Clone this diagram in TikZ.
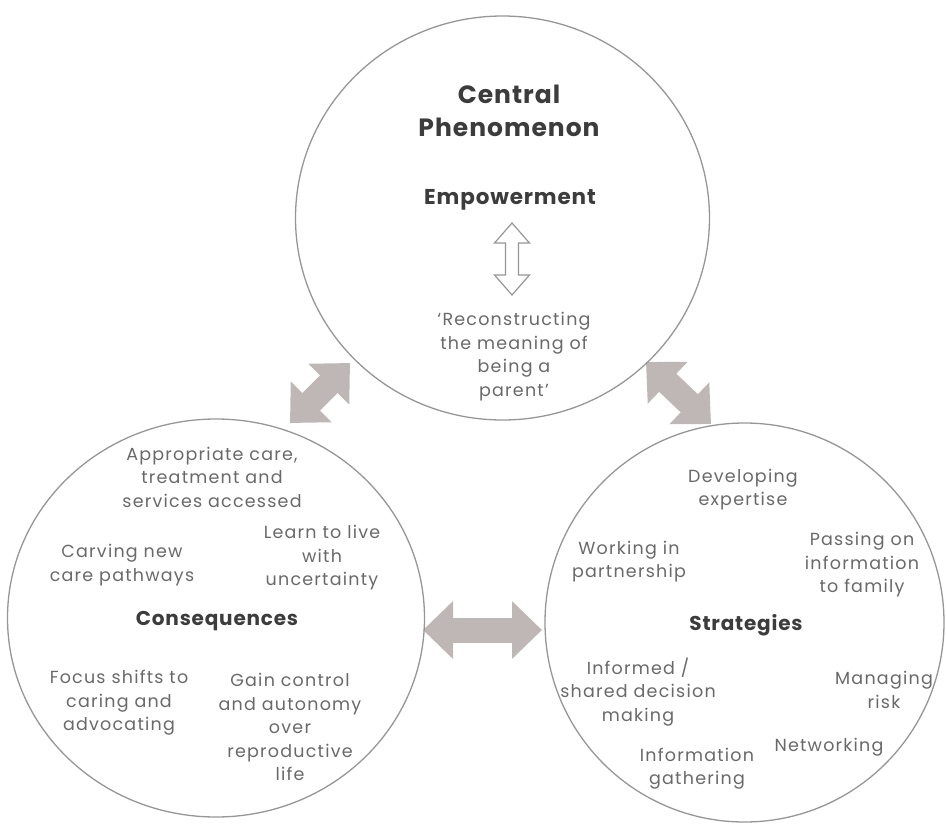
\documentclass[tikz,border=0pt]{standalone}
\usepackage{fontspec}
\setmainfont{Poppins}
\usetikzlibrary{arrows.meta,shapes.geometric}

\definecolor{ringgray}{RGB}{150,150,150}
\definecolor{linkgray}{RGB}{190,183,181}
\definecolor{bodytext}{RGB}{105,105,105}
\definecolor{headtext}{RGB}{60,60,60}

\tikzset{
  ring/.style={ellipse, draw=ringgray, line width=1.3pt, inner sep=0pt},
  label/.style={align=center, inner sep=0pt, text=bodytext,
    font=\fontsize{17.5}{23.5}\selectfont\addfontfeatures{LetterSpace=7}},
  heading/.style={align=center, inner sep=0pt, text=headtext,
    font=\fontsize{20}{24}\selectfont\bfseries\addfontfeatures{LetterSpace=4}},
  bigheading/.style={align=center, inner sep=0pt, text=headtext,
    font=\fontsize{25}{33}\selectfont\bfseries\addfontfeatures{LetterSpace=4}},
  biglink/.style={draw=linkgray, line width=25pt,
    {Triangle[length=30pt,width=56pt]}-{Triangle[length=30pt,width=56pt]}},
  hollowlink/.style={draw=ringgray, line width=1.2pt, fill=white, line join=miter}
}

\begin{document}
\begin{tikzpicture}[x=1pt,y=-1pt]
  \useasboundingbox (0,0) rectangle (946,823);

  % link end points between the three rings
  \coordinate (lt-a) at (290,423);
  \coordinate (lt-b) at (350,363);
  \coordinate (rt-a) at (646,362);
  \coordinate (rt-b) at (711,424);
  \coordinate (md-a) at (423,630);
  \coordinate (md-b) at (542,630);

  % two-headed links
  \draw[biglink] (lt-a) -- (lt-b);
  \draw[biglink] (rt-a) -- (rt-b);
  \draw[biglink] (md-a) -- (md-b);

  % the three rings
  \node[ring, minimum width=414pt, minimum height=404pt] (central) at (502.5,218) {};
  \node[ring, minimum width=417pt, minimum height=398pt] (conseq) at (216,618) {};
  \node[ring, minimum width=399pt, minimum height=399pt] (strat) at (744.5,622.5) {};

  % central phenomenon
  \node[bigheading] (title) at (509,111) {Central\\Phenomenon};
  \node[heading, font=\fontsize{21.5}{24}\selectfont\bfseries\addfontfeatures{LetterSpace=4}]
    (emp) at (510,200) {Empowerment};
  \node[label] (recon) at (514,356.5) {`Reconstructing\\the meaning of\\being a\\parent'};

  % hollow two-headed arrow between Empowerment and its meaning
  \begin{scope}[shift={(512,259)}]
    \draw[hollowlink] (0,-36) -- (17.5,-16) -- (6.5,-16) -- (6.5,16) -- (17.5,16)
      -- (0,36) -- (-17.5,16) -- (-6.5,16) -- (-6.5,-16) -- (-17.5,-16) -- cycle;
  \end{scope}

  % consequences
  \node[label] (care) at (212,477) {Appropriate care,\\treatment and\\services accessed};
  \node[label] (carving) at (122,565) {Carving new\\care pathways};
  \node[label] (learn) at (322,558) {Learn to live\\with\\uncertainty};
  \node[heading] (cons) at (217,621) {Consequences};
  \node[label] (focus) at (119,703) {Focus shifts to\\caring and\\advocating};
  \node[label] (gain) at (290,727) {Gain control\\and autonomy\\over\\reproductive\\life};

  % strategies
  \node[label] (dev) at (743,489.5) {Developing\\expertise};
  \node[label] (work) at (629,561.5) {Working in\\partnership};
  \node[label] (pass) at (862,565) {Passing on\\information\\to family};
  \node[heading] (strg) at (746,625) {Strategies};
  \node[label] (informed) at (638,692) {Informed /\\shared decision\\making};
  \node[label] (manage) at (884,690) {Managing\\risk};
  \node[label] (net) at (829,747) {Networking};
  \node[label] (gather) at (697,768.5) {Information\\gathering};
\end{tikzpicture}
\end{document}
